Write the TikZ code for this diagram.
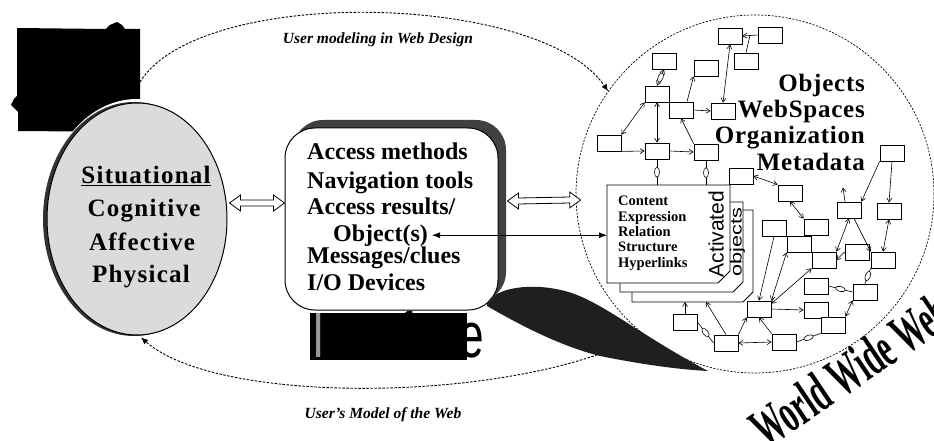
\documentclass[tikz,border=0pt]{standalone}
\usepackage{fontspec}
\setmainfont{Liberation Serif}
\newfontfamily\sansf{Liberation Sans}
\usetikzlibrary{arrows.meta,calc,shapes.geometric}

\begin{document}
\begin{tikzpicture}[x=1pt,y=-1pt,
  boxtxt/.style={anchor=base west, inner sep=0pt, font=\bfseries\fontsize{24}{26}\selectfont},
  elltxt/.style={anchor=base, inner sep=0pt, font=\bfseries\fontsize{25}{27}\selectfont\addfontfeature{LetterSpace=5}},
  objtxt/.style={anchor=base east, inner sep=0pt, font=\bfseries\fontsize{25}{27}\selectfont\addfontfeature{LetterSpace=3}},
  pantxt/.style={anchor=base west, inner sep=0pt, font=\bfseries\fontsize{14.5}{15}\selectfont},
  captxt/.style={anchor=base, inner sep=0pt, font=\bfseries\itshape\fontsize{15.5}{17}\selectfont},
  wb/.style={draw, fill=white, line width=0.8pt, minimum width=24pt, minimum height=16pt, inner sep=0pt},
  warr/.style={line width=0.6pt, -{Straight Barb[length=4pt,width=5pt]}},
  dar/.style={line width=0.6pt, {Straight Barb[length=4pt,width=5pt]}-{Straight Barb[length=4pt,width=5pt]}},
  lnk/.style={draw, ellipse, fill=white, line width=0.6pt, minimum width=10pt, minimum height=5pt, inner sep=0pt, sloped},
  dsh/.style={line width=0.9pt, dash pattern=on 2.5pt off 1.5pt},
  hol/.style={draw, fill=white, line width=0.8pt, line join=miter},
  panel/.style={draw, fill=white, line width=0.8pt, line join=miter},
  dtip/.style={-{Latex[length=7pt,width=6pt]}}
]
\useasboundingbox (0,0) rectangle (934,441);

% ---------- large dashed loop: web circle and user ellipse ----------
\node[circle, draw, line width=0.7pt, dash pattern=on 2pt off 1.5pt,
      minimum size=358pt, inner sep=0pt] (web) at (755,194) {};
\coordinate (blobR) at (140,82);
\coordinate (wb0) at (605,352);

% ---------- black blob ----------
\fill[black] (17,28) -- (106,29) -- (110,25) -- (117,22) -- (122,25) -- (125,29)
  -- (140,29) -- (140,132) -- (18,131) -- (18,112) -- (11,105) -- (14,99)
  -- (17,96) -- cycle;

% ---------- user ellipse ----------
\fill[white] (137,219) ellipse [x radius=94pt, y radius=120pt];
\node[ellipse, fill=black!80, minimum width=182pt, minimum height=234pt, inner sep=0pt]
  (usrsh) at (134,219) {};
\node[ellipse, draw, line width=1pt, fill=black!14, minimum width=180pt,
      minimum height=232pt, inner sep=0pt] (usr) at (137,219) {};
\node[elltxt] (s1) at (146,183) {\underline{Situational}};
\node[elltxt] (s2) at (144,216) {Cognitive};
\node[elltxt] (s3) at (142,250) {Affective};
\node[elltxt] (s4) at (141,282) {Physical};

\draw[dsh, dtip] (blobR) .. controls (200,-15) and (540,-8) .. (web.145);

% ---------- access box ----------
\fill[black!75, rounded corners=30pt] (293,120) rectangle (506,302);
\node[draw, fill=white, line width=1pt, rounded corners=30pt, minimum width=213pt,
      minimum height=182pt, inner sep=0pt] (acc) at (391.5,219) {};
\node[boxtxt] (a1) at (307,160) {Access methods};
\node[boxtxt] (a2) at (307,188) {Navigation tools};
\node[boxtxt] (a3) at (307,214) {Access results/};
\node[boxtxt] (objs) at (333,241) {Object(s)};
\node[boxtxt] (a5) at (307,263) {Messages/clues};
\node[boxtxt] (a6) at (307,290) {I/O Devices};

% ---------- interface banner ----------
\fill[black] (310,313) rectangle (467,360);
\node[anchor=base west, inner sep=0pt, font=\sansf\fontsize{64}{64}\selectfont]
  (intf) at (312,357) {\scalebox{0.69}[1]{{\color{black!40}I}nterface}};

% ---------- lower dashed return arc ----------
\draw[dsh, dtip] (wb0) .. controls (470,402) and (215,402) .. ($(usr.south)+(4,2)$);

% ---------- web graph ----------
\foreach \n/\p in {b1/{730,36}, b2/{770,35}, b3/{746,61}, b4/{664,61}, b5/{706,68},
    b6/{657,94}, b7/{681,110}, b8/{723,111}, b9/{609,143}, b10/{657,151}, b11/{706,152},
    c1/{741,176}, c2/{790,193}, c3/{892,153}, c4/{849,210}, c5/{889,211}, c6/{774,228},
    c7/{816,227}, c8/{799,244}, c9/{824,260}, c10/{857,252}, c11/{883,260},
    c12/{816,286}, c13/{865,292}, c14/{759,309}, c15/{816,310}, c16/{833,325},
    c17/{726,343}, c18/{784,342}, c19/{685,322}}
  \node[wb] (\n) at (\p) {};

\draw[warr] (b2.west) -- (b1.east);
\draw[line width=0.6pt] (b3.north) -- ($(b1.east)!.5!(b2.west)$);
\draw[dar] (b1.south) -- (b8.north);
\draw[dar] (b4.south) -- node[lnk]{} (b6.north);
\draw[warr] ($(b7.north)+(6,0)$) -- (b5.south west);
\draw[warr] (b7.east) -- (b8.west);
\draw[dar] (b6.south west) -- (b9.north east);
\draw[dar] (b6.south) -- (b10.north);
\draw[warr] (b9.south east) -- (b10.west);
\draw[warr] (b10.east) -- (b11.west);
\draw[warr] (b11.north west) -- (b7.south);

\draw[dar] (c1.east) -- (c2.north west);
\draw[dar] (c2.south) -- (c7.north west);
\draw[warr] (c3.south west) -- (c4.north east);
\draw[warr] (c3.south) -- (c5.north);
\draw[warr] ($(c4.north)+(-4,0)$) -- ++(-2,-14);
\draw[warr] (c6.south) -- (c14.north);
\draw[dar] (c14.north east) -- (c8.south west);
\draw[dar] ($(c14.north east)+(0,3)$) -- (c9.south west);
\draw[warr] (c14.east) -- (c15.west);
\draw[dar] (c9.north east) -- (c4.south);
\draw[warr] (c10.west) -- (c9.east);
\draw[warr] ($(c4.south)+(5,0)$) -- (c11.north west);
\draw[dar] (c11.north) -- (c5.south);
\draw[line width=0.6pt] (c11.south west) -- node[lnk]{} (c13.north);
\draw[line width=0.6pt] (c12.east) -- node[lnk]{} (c13.west);
\draw[dar] (c13.south west) -- (c16.north east);
\draw[line width=0.6pt] (c16.south west) -- node[lnk]{} (c18.east);
\draw[dar] (c17.east) -- (c18.west);
\draw[warr] (c17.north east) -- (c14.south west);
\draw[warr] (c18.north west) -- (c14.south);

% ---------- activated objects panels ----------
\draw[panel] (632,210) -- (753,210) -- (753,292) -- (743,302) -- (632,302) -- cycle;
\draw[panel] (620,202) -- (743,202) -- (743,282) -- (733,292) -- (620,292) -- cycle;
\draw[panel] (607,185) -- (730,185) -- (730,271) -- (718,283) -- (607,283) -- cycle;
\coordinate (pAw) at (607,235);
\coordinate (pAtop1) at (657,185);
\coordinate (pAtop2) at (706,185);
\coordinate (pCbot1) at (685,302);
\coordinate (pCbot2) at (706,302);

\node[pantxt] (p1) at (618,205) {Content};
\node[pantxt] (p2) at (618,221) {Expression};
\node[pantxt] (p3) at (618,236) {Relation};
\node[pantxt] (p4) at (618,251) {Structure};
\node[pantxt] (p5) at (618,267) {Hyperlinks};
\node[rotate=90, inner sep=0pt, font=\sansf\fontsize{21}{21}\selectfont] (act) at (716,234) {Activated};
\node[rotate=90, inner sep=0pt, font=\sansf\fontsize{16}{16}\selectfont] (obj) at (737.5,242) {\scalebox{1.35}[1]{objects}};

\draw[line width=0.6pt] (b10.south) -- node[lnk]{} (pAtop1);
\draw[line width=0.6pt] (b11.south) -- node[lnk]{} (pAtop2);
\draw[warr] (c17.north) -- (pCbot2);
\draw[warr] (c19.north) -- (pCbot1);
\draw[line width=0.6pt] (c19.east) -- node[lnk]{} (c17.west);

% ---------- web labels ----------
\node[objtxt] (o1) at (865,92) {Objects};
\node[objtxt] (o2) at (865,118) {WebSpaces};
\node[objtxt] (o3) at (865,143) {Organization};
\node[objtxt] (o4) at (865,170) {Metadata};

% ---------- black swoosh from the interface into the web ----------
\fill[black!88] (487,303) .. controls (495,288) and (530,282) .. (565,291)
  .. controls (600,300) and (640,335) .. (708,371)
  .. controls (670,369) and (630,362) .. (600,356)
  .. controls (560,346) and (520,325) .. (487,306) -- cycle;

% ---------- object(s) link ----------
\draw[line width=0.8pt, {Latex[length=8pt,width=6pt]}-{Latex[length=8pt,width=6pt]}]
  ($(objs.east)+(4,0)$) -- (objs.east -| pAw);

% ---------- hollow double arrows ----------
\coordinate (h1a) at ($(usr.east)+(2,-16)$);
\coordinate (h1b) at ($(acc.west)+(0,-16)$);
\coordinate (h2a) at ($(acc.east)+(9,-18)$);
\coordinate (h2b) at ($(web.west)+(5,6)$);
\draw[hol] (h1a) -- ++(11,-8) -- ++(0,5) -- ($(h1b)+(-11,-3)$) -- ++(0,-5) -- (h1b)
  -- ++(-11,8) -- ++(0,-5) -- ($(h1a)+(11,3)$) -- ++(0,5) -- cycle;
\draw[hol] (h2a) -- ++(11,-8) -- ++(0,5) -- ($(h2b)+(-11,-3)$) -- ++(0,-5) -- (h2b)
  -- ++(-11,8) -- ++(0,-5) -- ($(h2a)+(11,3)$) -- ++(0,5) -- cycle;

% ---------- captions ----------
\node[captxt] (lab1) at (378,44) {User modeling in Web Design};
\node[captxt] (lab2) at (383,418) {User's Model of the Web};
\node[anchor=base west, inner sep=0pt, rotate=34, font=\bfseries\fontsize{56}{56}\selectfont]
  (www) at (766,450) {\scalebox{0.55}[1]{World Wide Web}};
\end{tikzpicture}
\end{document}
